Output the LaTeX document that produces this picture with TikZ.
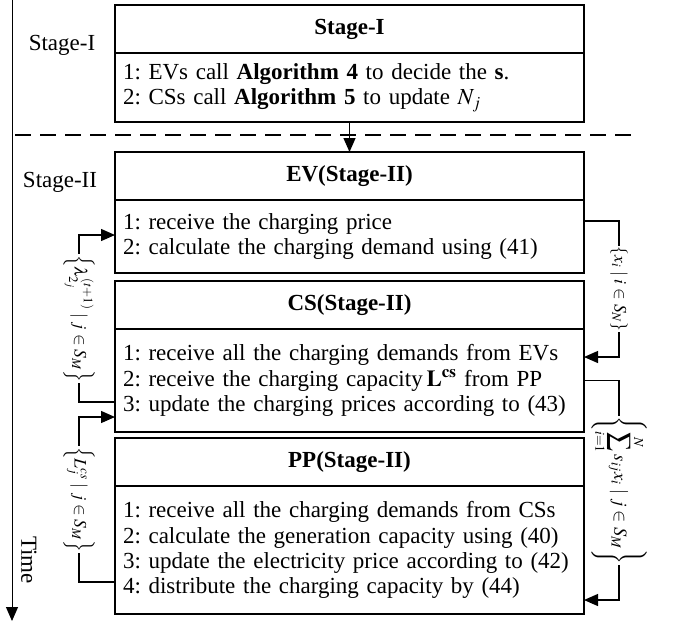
\documentclass[tikz,border=0pt]{standalone}
\usepackage{mathptmx}
\usepackage{fontspec}
\setmainfont{Liberation Serif}
\usetikzlibrary{arrows.meta,positioning}

\begin{document}
\fontsize{23}{25.2}\selectfont\frenchspacing
\begin{tikzpicture}[x=1pt,y=-1pt]
	\tikzstyle{head} = [draw,line width=1.5pt,outer sep=0pt,minimum width=469pt,minimum height=48pt,font=\bfseries];
	\tikzstyle{body} = [draw,line width=1.5pt,outer sep=0pt,text width=453pt,inner xsep=8pt,inner ysep=0pt,align=left];
	\tikzstyle{link} = [line width=1.3pt,-{Triangle[length=14pt,width=12pt]}];
	\tikzstyle{tag} = [fill=white,inner sep=1pt,rotate=-90,font=\fontsize{17.5}{20}\selectfont];
	\useasboundingbox (0,0) rectangle (676,622);
	% time axis and stages
	\coordinate (t_start) at (12,0);
	\coordinate (t_end) at (12,621);
	\draw[link,line width=1pt] (t_start) -- (t_end);
	\node (time) at (29,560) [rotate=-90] {Time};
	\node (lbl_s1) at (62,45) {Stage-I};
	\node (lbl_s2) at (60,182) {Stage-II};
	\coordinate (dash_l) at (15,135);
	\coordinate (dash_r) at (637,135);
	\draw[line width=1.2pt,dash pattern=on 16pt off 9pt] (dash_l) -- (dash_r);
	% boxes
	\node at (349.5,29) (s1_head) [head] {Stage-I};
	\node (s1_body) [below=0pt of s1_head,body,minimum height=69pt] {1: EVs call \textbf{Algorithm 4} to decide the \textbf{s}.\\2: CSs call \textbf{Algorithm 5} to update $N_j$};
	\node (ev_head) [below=30pt of s1_body,head] {EV(Stage-II)};
	\node (ev_body) [below=0pt of ev_head,body,minimum height=73pt] {1: receive the charging price\\2: calculate the charging demand using (41)};
	\node (cs_head) [below=8pt of ev_body,head] {CS(Stage-II)};
	\node (cs_body) [below=0pt of cs_head,body,minimum height=103pt] {1: receive all the charging demands from EVs\\2: receive the charging capacity\,$\mathbf{L}^{\mathbf{cs}}$ from PP\\3: update the charging prices according to (43)};
	\node (pp_head) [below=6pt of cs_body,head] {PP(Stage-II)};
	\node (pp_body) [below=0pt of pp_head,body,minimum height=128pt] {1: receive all the charging demands from CSs\\2: calculate the generation capacity using (40)\\3: update the electricity price according to (42)\\4: distribute the charging capacity by (44)};
	\draw[link] (s1_body) -- (ev_head);
	% feedback loops
	\coordinate (lam_out) at ([yshift=-21.5pt]cs_body.west);
	\coordinate (lam_in) at ([yshift=1.5pt]ev_body.west);
	\draw[link] (lam_out) -- ++(-36pt,0) coordinate (lam_c) -- (lam_c |- lam_in) node[midway,tag] {$\left\{\lambda_{2_j}^{(t+1)}\mid j\in S_M\right\}$} -- (lam_in);
	\coordinate (cap_out) at ([yshift=-32pt]pp_body.west);
	\coordinate (cap_in) at ([yshift=-36.5pt]cs_body.west);
	\draw[link] (cap_out) -- ++(-36pt,0) coordinate (cap_c) -- (cap_c |- cap_in) node[midway,tag] {$\left\{L_j^{cs}\mid j\in S_M\right\}$} -- (cap_in);
	\coordinate (dem_out) at ([yshift=15.5pt]ev_body.east);
	\coordinate (dem_in) at ([yshift=23.5pt]cs_body.east);
	\draw[link] (dem_out) -- ++(35pt,0) coordinate (dem_c) -- (dem_c |- dem_in) node[midway,tag] {$\left\{x_i\mid i\in S_N\right\}$} -- (dem_in);
	\coordinate (sum_out) at (cs_body.east);
	\coordinate (sum_in) at ([yshift=-50pt]pp_body.east);
	\draw[link] (sum_out) -- ++(35pt,0) coordinate (sum_c) -- (sum_c |- sum_in) node[midway,tag,font=\fontsize{18.5}{21}\selectfont] {$\displaystyle\left\{\sum_{i=1}^{N}s_{ij}x_i\mid j\in S_M\right\}$} -- (sum_in);
\end{tikzpicture}
\end{document}
